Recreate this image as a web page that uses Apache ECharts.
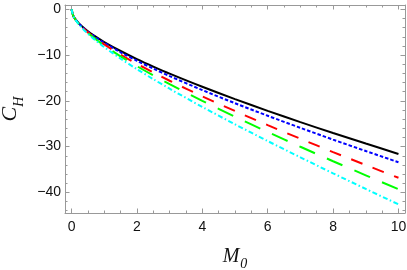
<!DOCTYPE html>
<html><head><meta charset="utf-8">
<script src="https://cdn.jsdelivr.net/npm/echarts@6/dist/echarts.min.js"></script>
<style>html,body{margin:0;padding:0;background:#fff}#c{width:407px;height:270px}</style>
</head><body><div id="c"></div>
<script>
const m0 = [0, 0.05, 0.1, 0.2, 0.3, 0.5, 0.75, 1, 1.5, 2, 2.5, 3, 4, 5, 6, 7, 8, 9, 10];
const chBlack = [0, -1.37, -1.98, -2.87, -3.59, -4.78, -6.04, -7.15, -9.11, -10.88, -12.51, -14.05, -16.92, -19.62, -22.18, -24.64, -27.02, -29.33, -31.60];
const chBlue  = [0, -1.38, -1.99, -2.91, -3.64, -4.87, -6.17, -7.33, -9.39, -11.24, -12.96, -14.59, -17.65, -20.52, -23.26, -25.90, -28.47, -30.96, -33.41];
const chRed   = [0, -1.40, -2.03, -2.97, -3.74, -5.04, -6.43, -7.67, -9.90, -11.92, -13.81, -15.61, -19.01, -22.22, -25.30, -28.28, -31.19, -34.02, -36.81];
const chGreen = [0, -1.41, -2.05, -3.02, -3.82, -5.17, -6.61, -7.92, -10.27, -12.42, -14.44, -16.36, -20.01, -23.47, -26.80, -30.03, -33.19, -36.27, -39.31];
const chCyan  = [0, -1.43, -2.09, -3.09, -3.92, -5.33, -6.86, -8.25, -10.77, -13.08, -15.26, -17.35, -21.33, -25.12, -28.78, -32.34, -35.83, -39.24, -42.61];
const xMajorTicks = [0, 2, 4, 6, 8, 10];
const xMinorTicks = [0.5, 1, 1.5, 2.5, 3, 3.5, 4.5, 5, 5.5, 6.5, 7, 7.5, 8.5, 9, 9.5];
const yMajorTicks = [0, -10, -20, -30, -40];
const yMinorTicks = [-2, -4, -6, -8, -12, -14, -16, -18, -22, -24, -26, -28, -32, -34, -36, -38, -42, -44];

const FRAME = '#999';
const chart = echarts.init(document.getElementById('c'), null, {renderer: 'canvas'});
const fmt = v => String(v).replace('-', '\u2212');

function makeAxis(kind, position, ticks, len, withLine, withLabels, extra) {
  const isX = kind === 'x';
  const a = Object.assign({
    type: 'value',
    position: position,
    min: isX ? -0.2 : -44.5,
    max: isX ? 10.2 : 0.94,
    splitLine: {show: false},
    axisLine: {show: withLine, onZero: false, lineStyle: {color: FRAME, width: 1}},
    axisTick: {show: true, inside: true, length: len, customValues: ticks, lineStyle: {color: FRAME, width: 1}},
    axisLabel: withLabels ? {show: true, customValues: ticks, formatter: fmt, color: '#111',
      fontFamily: 'Liberation Sans', fontSize: 14, margin: isX ? 7 : 4, hideOverlap: false} : {show: false}
  }, extra || {});
  return a;
}

const xAxes = [
  makeAxis('x', 'bottom', xMajorTicks, 4.5, true, true, {
    name: '{m|M}{s|0}', nameLocation: 'middle', nameGap: 32,
    nameTextStyle: {rich: {
      m: {fontFamily: 'Liberation Serif', fontStyle: 'italic', fontSize: 20, color: '#111', verticalAlign: 'bottom', lineHeight: 22},
      s: {fontFamily: 'Liberation Serif', fontStyle: 'italic', fontSize: 14, color: '#111', verticalAlign: 'bottom', lineHeight: 22, padding: [0, 0, -4, 1]}
    }}
  }),
  makeAxis('x', 'bottom', xMinorTicks, 2.5, false, false),
  makeAxis('x', 'top', xMajorTicks, 4.5, true, false),
  makeAxis('x', 'top', xMinorTicks, 2.5, false, false)
];
const yAxes = [
  makeAxis('y', 'left', yMajorTicks, 4.5, true, true, {
    name: '{c|C}{h|H}', nameLocation: 'middle', nameGap: 38, nameRotate: 90,
    nameTextStyle: {rich: {
      c: {fontFamily: 'Liberation Serif', fontStyle: 'italic', fontSize: 22, color: '#111', verticalAlign: 'bottom', lineHeight: 24},
      h: {fontFamily: 'Liberation Serif', fontStyle: 'italic', fontSize: 14, color: '#111', verticalAlign: 'bottom', lineHeight: 24, padding: [0, 0, -5, 0]}
    }}
  }),
  makeAxis('y', 'left', yMinorTicks, 2.5, false, false),
  makeAxis('y', 'right', yMajorTicks, 4.5, true, false),
  makeAxis('y', 'right', yMinorTicks, 2.5, false, false)
];

function pairs(ys) { return m0.map((x, i) => [x, ys[i]]); }
function line(name, ys, color, type, width) {
  return {name: name, type: 'line', data: pairs(ys), showSymbol: false, smooth: 0.3,
    xAxisIndex: 0, yAxisIndex: 0, animation: false,
    lineStyle: {color: color, width: width, type: type}};
}

chart.setOption({
  animation: false,
  grid: {left: 65, right: 2, top: 5, bottom: 57, containLabel: false, outerBoundsMode: 'none'},
  xAxis: xAxes,
  yAxis: yAxes,
  series: [
    line('black', chBlack, '#000000', 'solid', 2),
    line('blue', chBlue, '#0000ff', [3.5, 2], 2),
    line('red', chRed, '#ff0000', [12, 11], 2),
    line('green', chGreen, '#00ff00', [17, 13], 2),
    line('cyan', chCyan, '#00ffff', [5, 2.5, 1.5, 2.5], 2)
  ]
});
</script></body></html>
